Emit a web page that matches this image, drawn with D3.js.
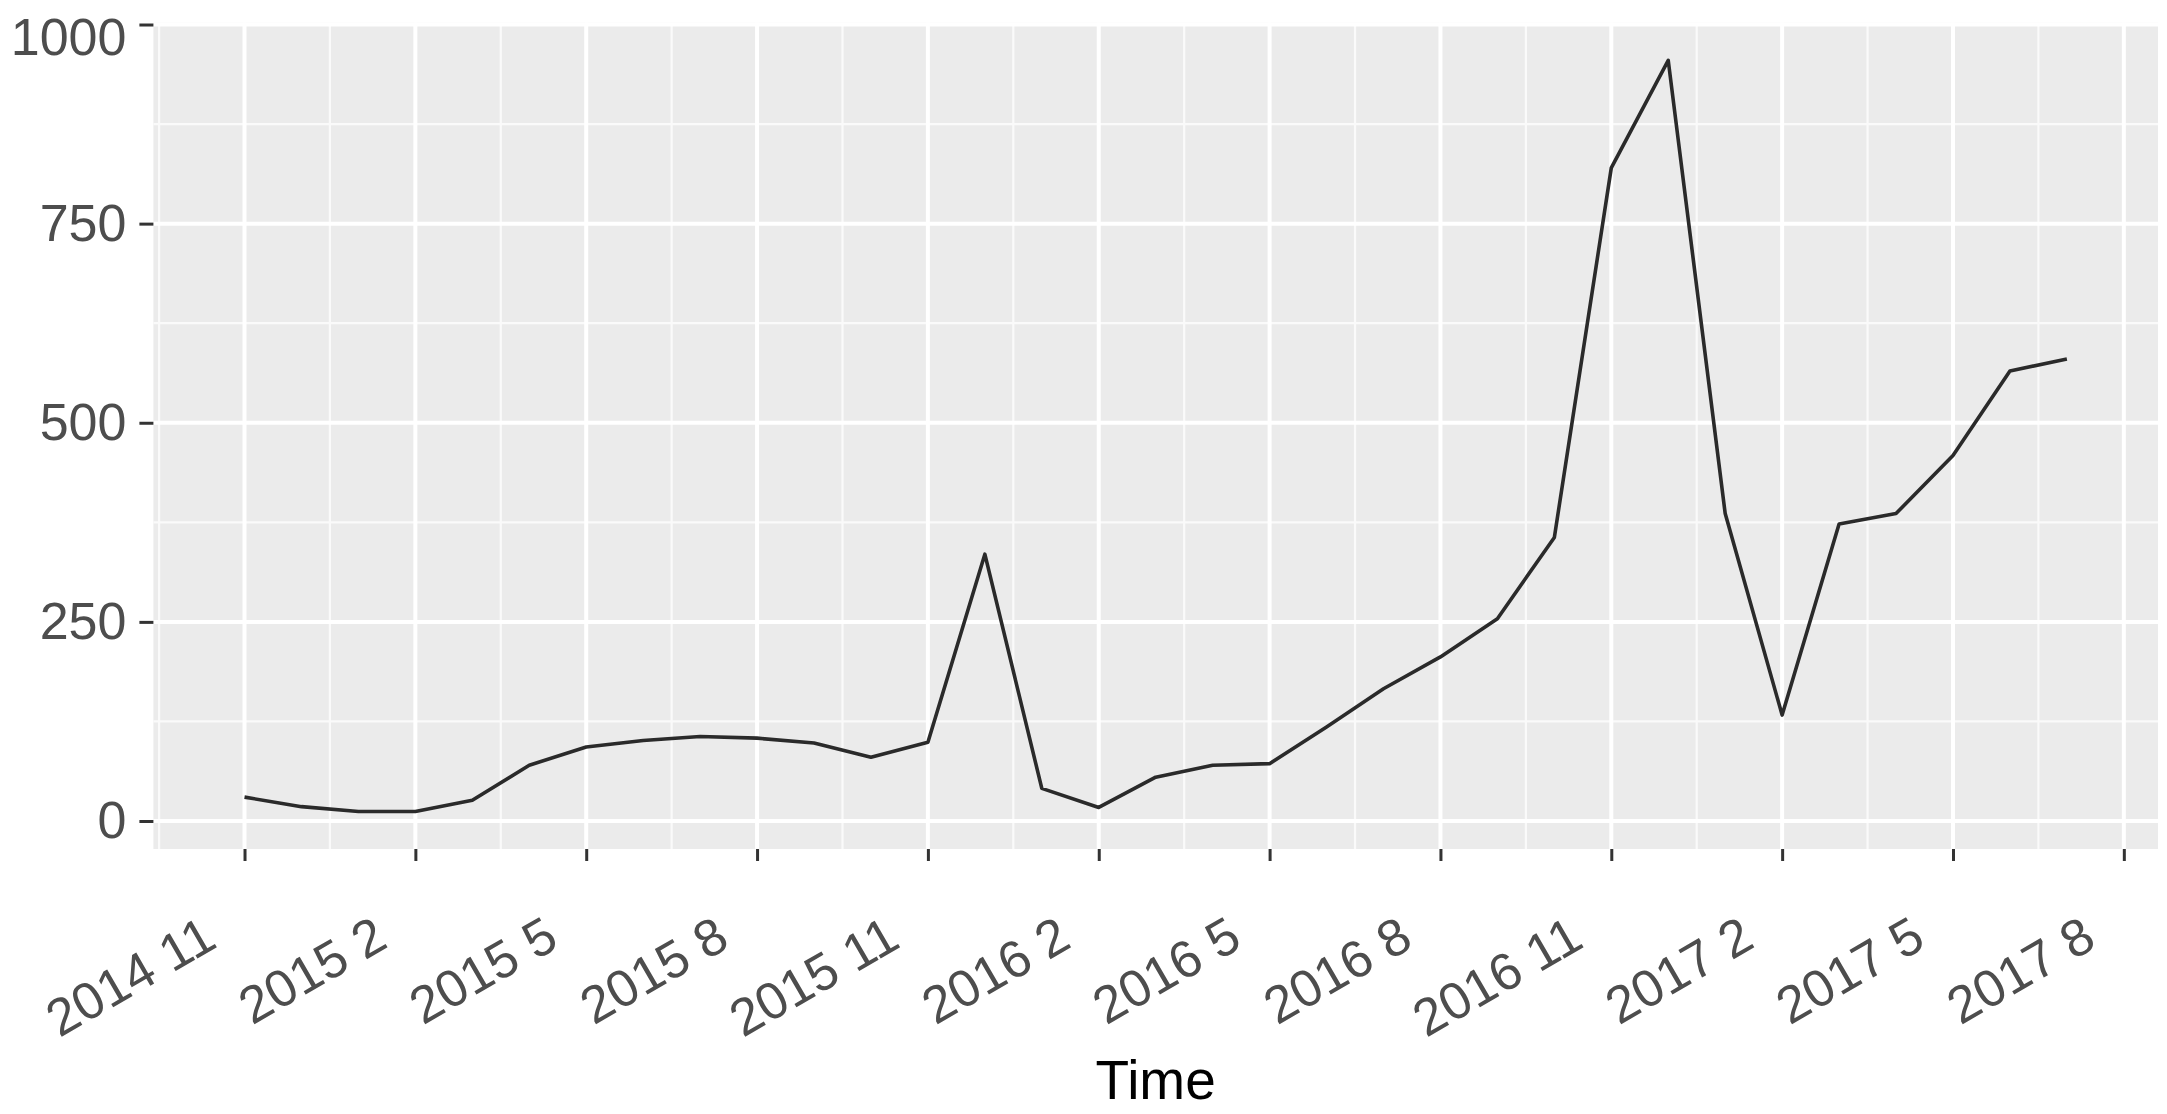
<!DOCTYPE html>
<html>
<head>
<meta charset="utf-8">
<script src="https://cdn.jsdelivr.net/npm/d3@7"></script>
<style>
  html, body { margin: 0; padding: 0; background: #ffffff; }
  svg { display: block; }
</style>
</head>
<body>
<script>
// ---- data (monthly series, starting 2014 11) ----
const startYear = 2014;
const startMonth = 11;
const values = [30, 18, 12, 12, 26, 70, 93, 101, 106, 104, 98, 80, 99, 335, 41, 17,
                55, 70, 72, 118, 166, 206, 254, 356, 820, 955, 386, 133, 373, 386, 459, 565, 580];
const xTickLabels = ["2014 11", "2015 2", "2015 5", "2015 8", "2015 11", "2016 2",
                     "2016 5", "2016 8", "2016 11", "2017 2", "2017 5", "2017 8"];
const yTickValues = [0, 250, 500, 750, 1000];
const xTitle = "Time";

// ---- layout ----
const W = 2167, H = 1114;
const panel = { left: 153.4, right: 2158, top: 22.8, bottom: 849 };

const svg = d3.select("body").append("svg").attr("width", W).attr("height", H);

const data = values.map((v, i) => ({ i, v }));
const labelIndex = s => {
  const [yy, mm] = s.split(" ").map(Number);
  return (yy - startYear) * 12 + (mm - startMonth);
};
const xTicks = xTickLabels.map(labelIndex);

const xExt = d3.extent(data, d => d.i);
const yExt = d3.extent(data, d => d.v);
const xPad = (xExt[1] - xExt[0]) * 0.05;
const yPad = (yExt[1] - yExt[0]) * 0.05;

const x = d3.scaleLinear().domain([xExt[0] - xPad, xExt[1] + xPad]).range([panel.left, panel.right]);
const y = d3.scaleLinear().domain([yExt[0] - yPad, yExt[1] + yPad]).range([panel.bottom, panel.top]);

// panel background
svg.append("rect")
  .attr("x", panel.left).attr("y", panel.top)
  .attr("width", panel.right - panel.left).attr("height", panel.bottom - panel.top)
  .attr("fill", "#EBEBEB");

const g = svg.append("g");

// minor grid
const xMinor = [];
for (let k = 0; k < xTicks.length + 1; k++) {
  const m = xTicks[0] - 1.5 + 3 * k;
  if (m >= x.domain()[0] && m <= x.domain()[1]) xMinor.push(m);
}
const yMinor = [];
for (let k = -1; k < yTickValues.length; k++) {
  const v = 125 + 250 * k;
  if (v >= y.domain()[0] && v <= y.domain()[1]) yMinor.push(v);
}
g.selectAll(".xminor").data(xMinor).enter().append("line")
  .attr("x1", d => x(d)).attr("x2", d => x(d))
  .attr("y1", panel.top).attr("y2", panel.bottom)
  .attr("stroke", "#FAFAFA").attr("stroke-width", 2.2);
g.selectAll(".yminor").data(yMinor).enter().append("line")
  .attr("x1", panel.left).attr("x2", panel.right)
  .attr("y1", d => y(d)).attr("y2", d => y(d))
  .attr("stroke", "#FAFAFA").attr("stroke-width", 2.2);

// major grid
g.selectAll(".xmajor").data(xTicks.filter(m => m <= x.domain()[1])).enter().append("line")
  .attr("x1", d => x(d)).attr("x2", d => x(d))
  .attr("y1", panel.top).attr("y2", panel.bottom)
  .attr("stroke", "#FFFFFF").attr("stroke-width", 4);
g.selectAll(".ymajor").data(yTickValues).enter().append("line")
  .attr("x1", panel.left).attr("x2", panel.right)
  .attr("y1", d => y(d)).attr("y2", d => y(d))
  .attr("stroke", "#FFFFFF").attr("stroke-width", 4);

// data line
const line = d3.line().x(d => x(d.i)).y(d => y(d.v));
svg.append("path")
  .datum(data)
  .attr("d", line)
  .attr("fill", "none")
  .attr("stroke", "#2a2a2a")
  .attr("stroke-width", 3.6)
  .attr("stroke-linejoin", "round")
  .attr("stroke-linecap", "butt");

// y axis
const yAxis = svg.append("g")
  .attr("transform", `translate(${panel.left},0)`)
  .call(d3.axisLeft(y).tickValues(yTickValues).tickSize(14).tickPadding(13).tickFormat(d3.format("d")));
yAxis.select(".domain").remove();
yAxis.selectAll(".tick line").attr("stroke", "#333333").attr("stroke-width", 3);
yAxis.selectAll(".tick text")
  .attr("fill", "#4D4D4D")
  .style("font-family", "'Liberation Sans', Arial, sans-serif")
  .style("font-size", "52px");
// keep labels inside the picture (the top label sits slightly lower, as in the reference)
yAxis.selectAll(".tick text").each(function () {
  const bb = this.getBBox();
  const tr = this.parentNode.transform.baseVal.consolidate();
  const top = bb.y + (tr ? tr.matrix.f : 0);
  if (top < 2) d3.select(this).attr("y", 2 - top + 6);
});

// x axis
const xAxis = svg.append("g")
  .attr("transform", `translate(0,${panel.bottom})`)
  .call(d3.axisBottom(x).tickValues(xTicks).tickSize(12).tickFormat((d, i) => xTickLabels[i]));
xAxis.select(".domain").remove();
xAxis.selectAll(".tick line").attr("stroke", "#333333").attr("stroke-width", 3);
xAxis.selectAll(".tick text")
  .attr("x", 0).attr("y", 0).attr("dy", 0)
  .attr("text-anchor", "end")
  .attr("transform", "translate(-26,97) rotate(-30)")
  .attr("fill", "#4D4D4D")
  .style("font-family", "'Liberation Sans', Arial, sans-serif")
  .style("font-size", "52px");

// x title
svg.append("text")
  .attr("x", (panel.left + panel.right) / 2)
  .attr("y", 1099)
  .attr("text-anchor", "middle")
  .attr("fill", "#000000")
  .style("font-family", "'Liberation Sans', Arial, sans-serif")
  .style("font-size", "55px")
  .text(xTitle);
</script>
</body>
</html>
